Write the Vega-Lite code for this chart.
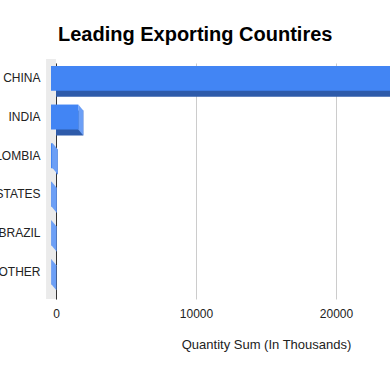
{
  "$schema": "https://vega.github.io/schema/vega-lite/v6.json",
  "autosize": {"type": "none"},
  "padding": {"left": 56, "top": 63, "right": 0, "bottom": 72},
  "width": 420,
  "height": 236,
  "background": "white",
  "title": {"text": "Leading Exporting Countires", "anchor": "start", "frame": "group", "dx": 2, "fontSize": 20, "font": "Liberation Sans", "fontWeight": "bold", "color": "#000000", "offset": 10},
  "config": {"view": {"stroke": null}},
  "data": {"values": [
    {"country": "CHINA", "qty": 27000},
    {"country": "INDIA", "qty": 1950},
    {"country": "COLOMBIA", "qty": 120},
    {"country": "UNITED STATES", "qty": 50},
    {"country": "BRAZIL", "qty": 40},
    {"country": "OTHER", "qty": 25}
  ]},
  "encoding": {
    "x": {"field": "qty", "type": "quantitative", "scale": {"domain": [0, 30000], "nice": false},
      "axis": {"values": [0, 10000, 20000], "format": "d", "domain": false, "ticks": false, "grid": true, "gridColor": "#cccccc", "labelFont": "Liberation Sans", "labelFontSize": 12, "labelColor": "#222222", "labelPadding": 9, "labelFlush": false, "title": "Quantity Sum (In Thousands)", "titleFont": "Liberation Sans", "titleFontSize": 13, "titleFontWeight": "normal", "titleColor": "#222222", "titlePadding": 19, "zindex": 0}}
  },
  "layer": [
    {"mark": {"type": "rule", "color": "#ebebeb", "strokeWidth": 9, "xOffset": -5, "yOffset": -4}, "encoding": {"x": {"datum": 0}}},
    {"mark": {"type": "bar", "color": "#2e5baa", "opacity": 1},
     "encoding": {"y": {"field": "country", "type": "nominal", "sort": null, "scale": {"paddingInner": 0.354, "paddingOuter": 0.23},
       "axis": {"title": null, "domain": true, "domainColor": "#333333", "ticks": false, "labelPadding": 16, "labelOffset": -6, "labelFont": "Liberation Sans", "labelFontSize": 12, "labelColor": "#222222", "grid": false, "zindex": 0}}}},
    {"mark": {"type": "point", "shape": "M-0.2703,-1L0,-0.6757L0,0.6757L-0.2703,0.3514Z", "size": 1369, "filled": true, "color": "#6c9ff6", "opacity": 1, "strokeWidth": 0},
     "encoding": {"y": {"field": "country", "type": "nominal", "sort": null}}},
    {"mark": {"type": "bar", "color": "#4285f4", "opacity": 1, "xOffset": -5, "x2Offset": -5, "yOffset": -6, "y2Offset": -6},
     "encoding": {"y": {"field": "country", "type": "nominal", "sort": null}}}
  ]
}
